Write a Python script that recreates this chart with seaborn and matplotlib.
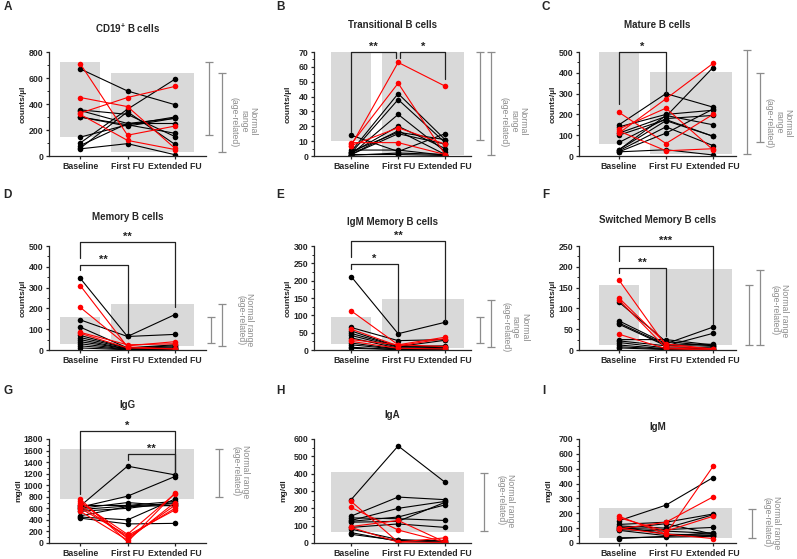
import numpy as np
import pandas as pd
import matplotlib
matplotlib.use('Agg')
import matplotlib.pyplot as plt
import matplotlib.transforms as mtransforms
from matplotlib.ticker import MultipleLocator, AutoMinorLocator
import seaborn as sns

sns.set_style('ticks')
plt.rcParams['font.family'] = ['Liberation Sans', 'DejaVu Sans']
plt.rcParams['font.weight'] = 'bold'
plt.rcParams['mathtext.fontset'] = 'custom'
plt.rcParams['mathtext.rm'] = 'Liberation Sans:bold'
plt.rcParams['mathtext.bf'] = 'Liberation Sans:bold'

timepoints = ['Baseline', 'First FU', 'Extended FU']

# values per patient; the first n_red patients are drawn in red
cd19_base = [710, 450, 330, 320, 670, 355, 300, 145, 100, 80, 60, 55, 350, 300]
cd19_first = [160, 380, 450, 120, 500, 320, 240, 240, 360, 250, 340, 95, 250, 230]
cd19_ext = [230, 60, 535, 50, 395, 150, 300, 175, 590, 290, 90, 10, 250, 290]
cd19_red = 4

trans_base = [8, 7, 7, 9, 14, 3, 2, 1, 2, 1, 3, 1, 0.5, 4, 1]
trans_first = [49, 63, 19, 9, 3, 42, 38, 28, 20, 17, 16, 15, 2, 4, 1]
trans_ext = [1, 47, 8, 1, 15, 11, 9, 3, 5, 1, 11, 8, 1, 0.5, 0.3]
trans_red = 4

mature_base = [210, 130, 110, 120, 150, 140, 100, 65, 30, 25, 20, 20, 110, 30]
mature_first = [60, 230, 275, 25, 300, 200, 175, 180, 195, 140, 110, 30, 190, 170]
mature_ext = [200, 30, 445, 35, 235, 220, 95, 195, 150, 50, 225, 5, 425, 95]
mature_red = 4

memory_base = [310, 205, 85, 80, 345, 145, 110, 70, 60, 50, 40, 30, 20, 10]
memory_first = [15, 20, 25, 10, 65, 65, 10, 10, 8, 5, 5, 3, 2, 1]
memory_ext = [5, 40, 30, 5, 170, 75, 25, 20, 15, 10, 8, 5, 3, 2]
memory_red = 4

igmmem_base = [113, 60, 30, 25, 212, 65, 48, 42, 35, 20, 15, 8, 5, 55]
igmmem_first = [15, 12, 15, 5, 47, 27, 10, 8, 5, 3, 2, 1, 1, 10]
igmmem_ext = [37, 33, 10, 3, 80, 30, 28, 10, 8, 5, 3, 2, 1, 12]
igmmem_red = 4

switched_base = [168, 125, 120, 38, 115, 70, 62, 25, 22, 18, 12, 8, 5, 65]
switched_first = [10, 15, 5, 3, 20, 15, 10, 25, 10, 5, 3, 2, 1, 12]
switched_ext = [3, 2, 1, 0, 10, 55, 40, 12, 10, 5, 3, 8, 2, 14]
switched_red = 4

igg_base = [760, 700, 650, 600, 550, 720, 640, 620, 600, 550, 450, 430, 650, 580, 470]
igg_first = [20, 150, 100, 130, 50, 80, 1330, 810, 700, 600, 400, 330, 650, 640, 630]
igg_ext = [860, 850, 600, 570, 700, 650, 1180, 1150, 640, 700, 760, 340, 720, 680, 650]
igg_red = 6

iga_base = [240, 205, 95, 90, 250, 155, 130, 125, 145, 90, 80, 60, 50, 120]
iga_first = [5, 75, 130, 5, 560, 265, 200, 150, 140, 110, 20, 10, 15, 125]
iga_ext = [30, 5, 5, 3, 350, 250, 240, 220, 130, 90, 10, 15, 5, 235]
iga_red = 4

igm_base = [180, 100, 95, 170, 150, 125, 115, 100, 90, 85, 35, 30, 110, 95]
igm_first = [60, 60, 140, 80, 255, 140, 100, 90, 80, 50, 40, 45, 60, 130]
igm_ext = [30, 515, 310, 180, 440, 195, 190, 105, 65, 55, 45, 70, 50, 60]
igm_red = 4

three = 'Normal\nrange\n(age-related)'
two = 'Normal range\n(age-related)'

panels = [
    dict(letter='A', title='CD19$^{+}$ B cells', unit='counts/µl',
         data=(cd19_base, cd19_first, cd19_ext, cd19_red), ymax=800, step=200,
         boxes=[(-0.42, 0.42, 144, 725), (0.66, 2.41, 28, 635)],
         ranges=[(1.02, 160, 725), (1.10, 30, 635)], note=(1.24, 0.33, three),
         sig=[], title_y=28),
    dict(letter='B', title='Transitional B cells', unit='counts/µl',
         data=(trans_base, trans_first, trans_ext, trans_red), ymax=70, step=10,
         boxes=[(-0.42, 0.42, 10.3, 70), (0.66, 2.41, 0.5, 70)],
         ranges=[(1.06, 10.8, 70), (1.13, 0.4, 70)], note=(1.27, 0.33, three),
         sig=[(0, 0.95, 70, 16, 66, '**'), (1.05, 2, 70, 66, 52, '*')], title_y=25),
    dict(letter='C', title='Mature B cells', unit='counts/µl',
         data=(mature_base, mature_first, mature_ext, mature_red), ymax=500, step=100,
         boxes=[(-0.42, 0.42, 59, 503), (0.66, 2.41, 10, 402)],
         ranges=[(1.07, 11, 511), (1.15, 66, 399)], note=(1.27, 0.32, three),
         sig=[(0, 1, 500, 249, 302, '*')], title_y=25),
    dict(letter='D', title='Memory B cells', unit='counts/µl',
         data=(memory_base, memory_first, memory_ext, memory_red), ymax=500, step=100,
         boxes=[(-0.42, 0.42, 29, 160), (0.66, 2.41, 21, 221)],
         ranges=[(1.03, 32, 160), (1.10, 21, 221)], note=(1.25, 0.29, two),
         sig=[(0, 1, 410, 385, 80, '**'), (0, 2, 521, 441, 208, '**')], title_y=217),
    dict(letter='E', title='IgM Memory B cells', unit='counts/µl',
         data=(igmmem_base, igmmem_first, igmmem_ext, igmmem_red), ymax=300, step=50,
         boxes=[(-0.42, 0.42, 17, 96), (0.66, 2.41, 7, 146)],
         ranges=[(1.06, 21, 94), (1.13, 10, 144)], note=(1.28, 0.22, three),
         sig=[(0, 1, 248, 233, 56, '*'), (0, 2, 314, 267, 85, '**')], title_y=222),
    dict(letter='F', title='Switched Memory B cells', unit='counts/µl',
         data=(switched_base, switched_first, switched_ext, switched_red), ymax=250, step=50,
         boxes=[(-0.42, 0.42, 11, 157), (0.66, 2.41, 11, 194)],
         ranges=[(1.08, 13, 157), (1.15, 13, 193)], note=(1.28, 0.38, two),
         sig=[(0, 1, 198, 185, 33, '**'), (0, 2, 250, 214, 63, '***')], title_y=220),
    dict(letter='G', title='IgG', unit='mg/dl',
         data=(igg_base, igg_first, igg_ext, igg_red), ymax=1800, step=200,
         boxes=[(-0.42, 2.41, 770, 1626)],
         ranges=[(1.08, 793, 1632)], note=(1.22, 0.69, two),
         sig=[(0, 2, 1941, 841, 1194, '*'), (1, 2, 1547, 1430, 1194, '**')], title_y=405),
    dict(letter='H', title='IgA', unit='mg/dl',
         data=(iga_base, iga_first, iga_ext, iga_red), ymax=600, step=100,
         boxes=[(-0.42, 2.41, 64, 407)],
         ranges=[(1.08, 68, 401)], note=(1.22, 0.41, two),
         sig=[], title_y=415),
    dict(letter='I', title='IgM', unit='mg/dl',
         data=(igm_base, igm_first, igm_ext, igm_red), ymax=700, step=100,
         boxes=[(-0.42, 2.41, 34, 234)],
         ranges=[(1.10, 36, 227)], note=(1.23, 0.2, two),
         sig=[], title_y=427),
]

W, H = 797, 559
col_left = [49, 314, 579]
row_bottom = [156, 350, 543]
ax_w, ax_h = 157, 104
xlims = [(-0.66, 2.66), (-0.79, 2.55), (-0.85, 2.49)]
letter_pos = [(4, 7), (276, 7), (542, 7), (3, 195), (276, 195), (542, 195),
              (3, 391), (276, 391), (542, 391)]
grey = '#8c8c8c'

fig = plt.figure(figsize=(W / 100, H / 100), dpi=100)

for i, p in enumerate(panels):
    row, col = i // 3, i % 3
    ax = fig.add_axes([col_left[col] / W, 1 - row_bottom[row] / H, ax_w / W, ax_h / H])

    base, first, ext, n_red = p['data']
    n = len(base)
    groups = ['red'] * n_red + ['black'] * (n - n_red)
    df = pd.DataFrame({
        'subject': np.tile(np.arange(n), 3),
        'pos': np.repeat([0, 1, 2], n),
        'value': list(base) + list(first) + list(ext),
        'group': groups * 3,
    })

    for x0, x1, lo, hi in p['boxes']:
        ax.fill_between([x0, x1], [lo, lo], [hi, hi], color='#d9d9d9', lw=0, zorder=0)

    sns.lineplot(data=df, x='pos', y='value', hue='group', units='subject',
                 estimator=None, hue_order=['black', 'red'],
                 palette={'black': 'black', 'red': '#ff0000'}, marker='o',
                 markersize=4, markeredgewidth=0, linewidth=0.8,
                 legend=False, sort=False, ax=ax)

    ax.set_xlim(*xlims[col])
    ax.set_ylim(0, p['ymax'])
    ax.set_xticks([0, 1, 2])
    ax.set_xticklabels(timepoints)
    ax.yaxis.set_major_locator(MultipleLocator(p['step']))
    ax.yaxis.set_minor_locator(AutoMinorLocator(2))
    ax.set_xlabel('')
    ax.set_ylabel(p['unit'], fontsize=6, fontweight='bold')
    ax.yaxis.set_label_coords(-0.17 if row == 2 else -0.14, 0.5)
    sns.despine(ax=ax)
    for s in ['left', 'bottom']:
        ax.spines[s].set_linewidth(0.9)
    ax.tick_params(axis='both', which='major', labelsize=6.3, width=0.9, length=2.5, pad=1.5)
    ax.tick_params(axis='y', which='minor', width=0.7, length=1.5)

    # normal range brackets right of the axes
    tr = mtransforms.blended_transform_factory(ax.transAxes, ax.transData)
    for xf, lo, hi in p['ranges']:
        ax.plot([xf, xf], [lo, hi], color=grey, lw=0.9, transform=tr, clip_on=False)
        ax.plot([xf, xf], [lo, hi], color=grey, lw=0, marker='_', markersize=6,
                markeredgewidth=0.9, transform=tr, clip_on=False)
    nx, ny, txt = p['note']
    ax.text(nx, ny, txt, transform=ax.transAxes, rotation=270, ha='center', va='center',
            multialignment='center', fontsize=6.3, fontweight='normal', color=grey,
            linespacing=1.05)

    # significance brackets
    for x1, x2, ytop, y1, y2, stars in p['sig']:
        ax.plot([x1, x1, x2, x2], [y1, ytop, ytop, y2], color='#222222', lw=0.9,
                clip_on=False, zorder=5)
        ax.text((x1 + x2) / 2, ytop, stars, ha='center', va='bottom', fontsize=8,
                fontweight='bold', color='#222222')

    fig.text((col_left[col] + ax_w / 2) / W, 1 - p['title_y'] / H, p['title'],
             ha='center', va='center', fontsize=7, fontweight='bold')
    lx, ly = letter_pos[i]
    fig.text(lx / W, 1 - ly / H, p['letter'], ha='left', va='center',
             fontsize=8.5, fontweight='bold')

fig.savefig('out.png', dpi=100)
